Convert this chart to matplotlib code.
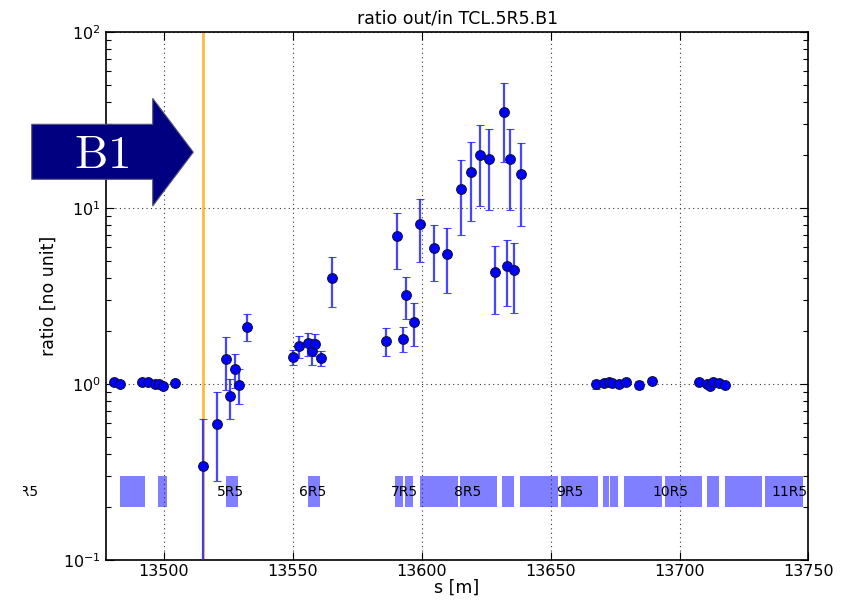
import matplotlib
matplotlib.use('Agg')
import matplotlib.pyplot as plt
from matplotlib.patches import Polygon
from matplotlib.transforms import Bbox, TransformedBbox

plt.rcParams['axes.unicode_minus'] = False

# measured positions [m], ratio out/in and its uncertainty
s_position = [13480.5, 13483.1, 13491.5, 13494.0, 13496.6, 13497.9, 13499.8, 13504.4,
              13515.3, 13520.5, 13524.1, 13525.7, 13527.4, 13529.2, 13532.2,
              13550.2, 13552.4, 13556.0, 13557.4, 13558.6, 13560.9, 13565.1,
              13586.0, 13590.3, 13592.6, 13593.9, 13596.9, 13599.5, 13604.7, 13609.8,
              13615.2, 13619.0, 13622.6, 13626.1, 13628.5, 13631.8, 13632.9, 13634.2,
              13635.9, 13638.6,
              13667.4, 13670.6, 13672.7, 13673.6, 13676.6, 13679.2, 13684.2, 13689.4,
              13707.6, 13710.5, 13711.8, 13713.1, 13715.4, 13717.8]
ratio = [1.02, 1.00, 1.02, 1.02, 1.00, 1.00, 0.97, 1.01,
         0.34, 0.59, 1.38, 0.85, 1.22, 0.99, 2.12,
         1.42, 1.64, 1.70, 1.54, 1.69, 1.40, 3.99,
         1.76, 6.93, 1.81, 3.20, 2.26, 8.11, 5.95, 5.50,
         12.9, 16.0, 19.9, 18.9, 4.31, 34.9, 4.67, 18.9,
         4.42, 15.6,
         1.00, 1.01, 1.02, 1.01, 1.00, 1.02, 0.99, 1.04,
         1.02, 1.00, 0.98, 1.03, 1.01, 0.99]
ratio_error = [0.03, 0.02, 0.03, 0.03, 0.03, 0.02, 0.03, 0.02,
               0.29, 0.31, 0.46, 0.22, 0.27, 0.22, 0.37,
               0.14, 0.23, 0.25, 0.25, 0.24, 0.14, 1.25,
               0.32, 2.4, 0.29, 0.87, 0.61, 3.2, 2.1, 2.2,
               5.9, 7.6, 9.7, 9.1, 1.8, 16.6, 1.9, 9.2,
               1.9, 7.7,
               0.06, 0.03, 0.03, 0.03, 0.03, 0.03, 0.05, 0.04,
               0.03, 0.03, 0.03, 0.03, 0.03, 0.03]

# collimator position
tcl_position = 13515.2

# magnet layout: start and end [m]
magnet_start = [13483.1, 13497.7, 13524.0, 13555.7, 13589.8, 13593.4, 13599.3, 13614.8,
                13631.1, 13638.2, 13653.9, 13670.2, 13673.1, 13678.5, 13694.3, 13710.5,
                13717.7, 13733.2]
magnet_end = [13492.5, 13501.2, 13528.7, 13560.6, 13592.9, 13596.7, 13614.0, 13629.3,
              13635.8, 13652.7, 13668.2, 13672.6, 13676.2, 13693.0, 13708.8, 13715.2,
              13732.0, 13747.9]

# half-cell names and where they sit along s
cell_names = ['4R5', '5R5', '6R5', '7R5', '8R5', '9R5', '10R5', '11R5']
cell_positions = [13446.0, 13525.8, 13557.8, 13593.1, 13617.6, 13657.4, 13696.6, 13742.8]

W, H = 842, 601

def px(x, y):
	'''pixel position -> figure fraction'''
	return (x / W, 1 - y / H)

fig = plt.figure(figsize=(W / 100, H / 100), dpi=100)
ax = fig.add_axes([0.1255, 0.0682, 0.8347, 0.8786])

'''magnets drawn as light boxes below the data'''
ax.bar(magnet_start, [0.1] * len(magnet_start),
       width=[e - s for s, e in zip(magnet_start, magnet_end)],
       bottom=0.2, align='edge', color='blue', alpha=0.5, linewidth=0, zorder=1)

for name, pos in zip(cell_names, cell_positions):
	t = ax.text(pos, 0.245, name, ha='center', va='center', fontsize=10, zorder=4)
	t.set_clip_box(TransformedBbox(Bbox([[23 / W, 0], [1, 1]]), fig.transFigure))
	t.set_clip_on(True)

ax.axvline(tcl_position, color='orange', lw=2, alpha=0.75, zorder=1.8)

ax.errorbar(s_position, ratio, yerr=ratio_error, fmt='o', color='blue',
            mfc='blue', mec='#101040', mew=0.8, ms=7,
            ecolor=(0.15, 0.15, 1, 0.85), elinewidth=1.6, capsize=3.2, capthick=1.4, zorder=3)

ax.set_yscale('log')
ax.set_ylim(0.1, 100)
ax.set_xlim(13477.4, 13750)
ax.set_xticks([13500, 13550, 13600, 13650, 13700, 13750])

ax.set_axisbelow('line')
ax.grid(True, which='major', linestyle=(0, (1, 3)), color='#333333', linewidth=0.8)
ax.tick_params(which='both', direction='in', top=True, right=True, labelsize=11.5)
ax.tick_params(which='major', length=6, width=0.8)
ax.tick_params(which='minor', length=3.5, width=0.8)
ax.tick_params(axis='x', pad=3)
for spine in ax.spines.values():
	spine.set_linewidth(1.2)

ax.set_title('ratio out/in TCL.5R5.B1', fontsize=12.5)
ax.set_xlabel('s [m]', fontsize=12.5, labelpad=0)
ax.set_ylabel('ratio [no unit]', fontsize=12.5)

'''beam direction arrow'''
arrow_points = [px(31.7, 124.3), px(152.7, 124.3), px(152.7, 98.3), px(193.3, 152.2),
                px(152.7, 206.0), px(152.7, 179.3), px(31.7, 179.3)]
fig.patches.append(Polygon(arrow_points, closed=True, transform=fig.transFigure,
                           facecolor='#000080', edgecolor='#55557a', lw=0.8, zorder=5))
bx, by = px(101.4, 155.3)
fig.text(bx, by, r'$\mathrm{B1}$', color='white', fontsize=34, ha='center', va='center',
         math_fontfamily='cm', zorder=6)

plt.savefig('out.png', dpi=100)
